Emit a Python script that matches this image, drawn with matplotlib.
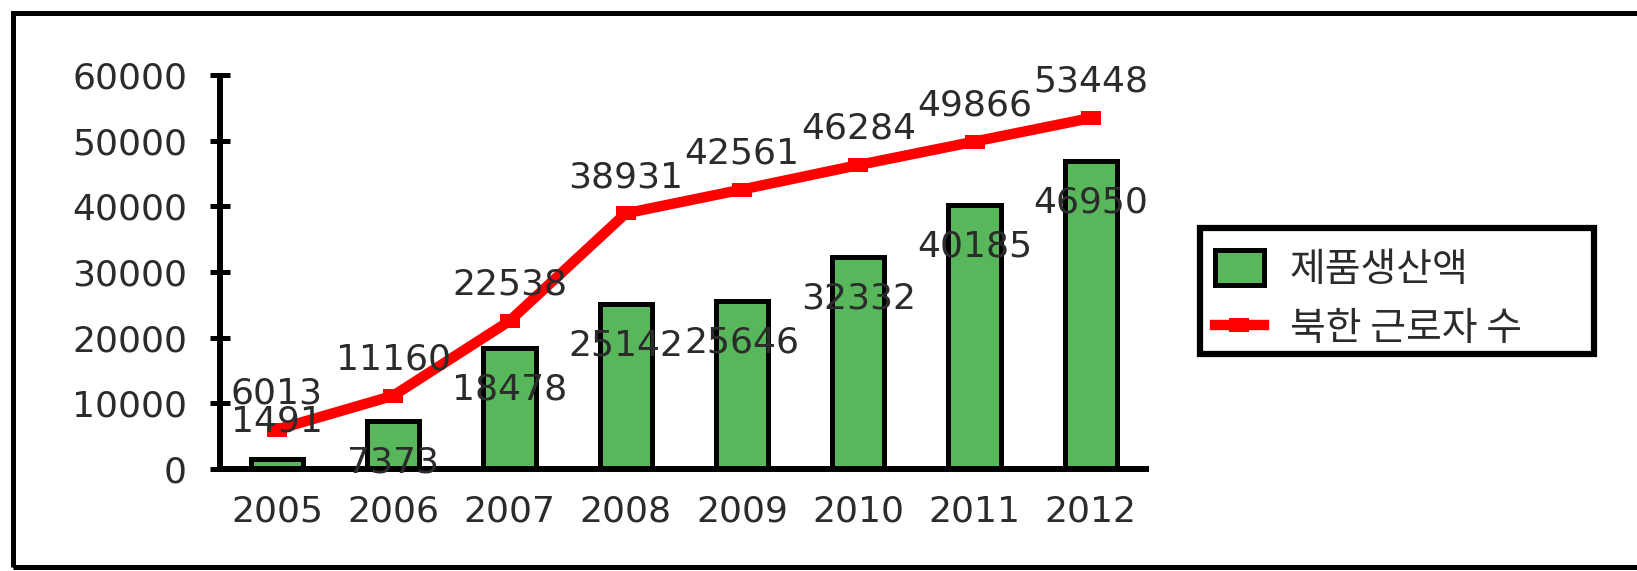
import matplotlib.pyplot as plt
from matplotlib.font_manager import FontProperties
from matplotlib.patches import Rectangle

plt.rcParams['font.family'] = ['DejaVu Sans', 'Noto Sans CJK KR']

years = ['2005', '2006', '2007', '2008', '2009', '2010', '2011', '2012']
production = [1491, 7373, 18478, 25142, 25646, 32332, 40185, 46950]
workers = [6013, 11160, 22538, 38931, 42561, 46284, 49866, 53448]
yticks = [0, 10000, 20000, 30000, 40000, 50000, 60000]

TEXT = '#2b2b2b'
GREEN = '#58b65b'
RED = '#ff0000'

W, H = 1637, 571
fig = plt.figure(figsize=(W / 100, H / 100), dpi=100)
fig.patch.set_facecolor('white')

# plot area in pixel terms
ax = fig.add_axes([220 / W, 1 - 469 / H, 929 / W, 394 / H])
x = list(range(len(years)))

bars = ax.bar(x, production, width=0.45, color=GREEN, edgecolor='black',
              linewidth=3.6, label='제품생산액', zorder=2)
line, = ax.plot(x, workers, color=RED, lw=7.5,
                marker=[(-1.3, -1), (1.3, -1), (1.3, 1), (-1.3, 1), (-1.3, -1)],
                markersize=14, markeredgewidth=0, label='북한 근로자 수', zorder=3)

for xi, v in zip(x, production):
    dy = 27 if v < 5000 else -30
    ax.annotate(str(v), (xi, v), xytext=(0, dy), textcoords='offset points',
                ha='center', va='center', fontsize=26, color=TEXT, zorder=5)
for xi, v in zip(x, workers):
    ax.annotate(str(v), (xi, v), xytext=(0, 26), textcoords='offset points',
                ha='center', va='center', fontsize=26, color=TEXT, zorder=5)

ax.set_xlim(-0.49, 7.5)
ax.set_ylim(0, 60000)
ax.set_xticks(x)
ax.set_xticklabels(years)
ax.set_yticks(yticks)
ax.set_yticklabels([str(t) for t in yticks])

for s in ['top', 'right']:
    ax.spines[s].set_visible(False)
for s in ['left', 'bottom']:
    ax.spines[s].set_linewidth(4.3)
    ax.spines[s].set_capstyle('butt')
ax.spines['left'].set_zorder(4)

ax.tick_params(axis='y', direction='inout', length=14.4, width=3.6,
               pad=16.5, labelsize=26, labelcolor=TEXT)
ax.tick_params(axis='x', length=0, pad=18, labelsize=26, labelcolor=TEXT)
ax.set_facecolor('none')

# legend entries without frame; the box is drawn separately below
leg = fig.legend(handles=[bars, line], loc='upper left',
                 bbox_to_anchor=(1197 / W, 1 - 238 / H, 400 / W, 0.01),
                 mode='expand', borderaxespad=0, borderpad=0.45,
                 handlelength=1.26, handleheight=1.0, handletextpad=0.67,
                 labelspacing=0.5, frameon=False,
                 prop=FontProperties(family='Noto Sans CJK KR', size=28))
for t in leg.get_texts():
    t.set_color(TEXT)

fig.patches.append(Rectangle((1200 / W, 1 - 354 / H), 394 / W, 126 / H,
                             transform=fig.transFigure, fill=False,
                             edgecolor='black', linewidth=4.5))

# outer frame, open on the right
fig.patches.append(Rectangle((13 / W, 4 / H), 1.1, 1 - 17 / H,
                             transform=fig.transFigure, fill=False,
                             edgecolor='black', linewidth=3.6))

fig.savefig('out.png', dpi=100)
